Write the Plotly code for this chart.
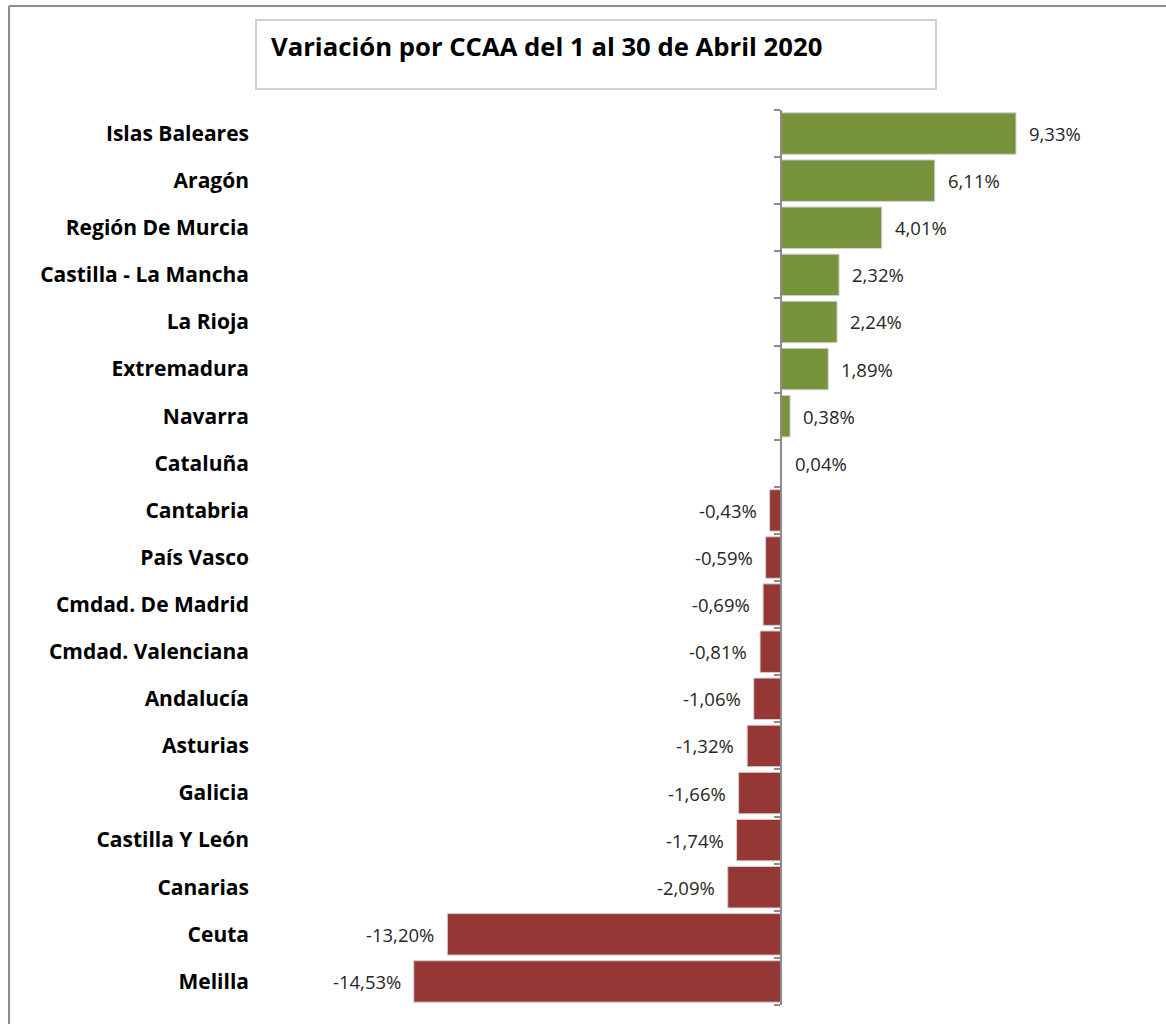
import plotly.graph_objects as go

categories = ["Islas Baleares", "Aragón", "Región De Murcia", "Castilla - La Mancha",
              "La Rioja", "Extremadura", "Navarra", "Cataluña", "Cantabria", "País Vasco",
              "Cmdad. De Madrid", "Cmdad. Valenciana", "Andalucía", "Asturias", "Galicia",
              "Castilla Y León", "Canarias", "Ceuta", "Melilla"]
values = [9.33, 6.11, 4.01, 2.32, 2.24, 1.89, 0.38, 0.04, -0.43, -0.59, -0.69, -0.81,
          -1.06, -1.32, -1.66, -1.74, -2.09, -13.20, -14.53]
title_text = "Variación por CCAA del 1 al 30 de Abril 2020"

GREEN = "#77933C"
RED = "#953735"
FONT = "Open Sans"

W, H = 1166, 1024
L, R, T, B = 256, 1160, 110, 1005
ZERO_PX = 780.5
PX_PER_UNIT = 25.24
xrange = [(L - ZERO_PX) / PX_PER_UNIT, (R - ZERO_PX) / PX_PER_UNIT]


def px_x(px):
    return (px - L) / (R - L)


def px_y(py):
    return (B - py) / (B - T)


def fmt(v):
    return f"{v:.2f}".replace(".", ",") + "%"


colors = [GREEN if v >= 0 else RED for v in values]

fig = go.Figure()
fig.add_trace(go.Bar(
    x=values, y=categories, orientation="h",
    marker=dict(color=colors, line=dict(color="#d0d0d0", width=1)),
    width=0.88, showlegend=False, hoverinfo="skip",
))
fig.add_trace(go.Scatter(x=[], y=[], xaxis="x", yaxis="y2", showlegend=False))

annotations = []
for c, v in zip(categories, values):
    annotations.append(dict(
        x=v, y=c, xref="x", yref="y", text=fmt(v), showarrow=False,
        xanchor="left" if v >= 0 else "right", yanchor="middle",
        xshift=11 if v >= 0 else -11,
        font=dict(family=FONT, size=18.5, color="#262626"),
    ))

annotations.append(dict(
    x=px_x(269), y=px_y(47), xref="paper", yref="paper", text="<b>" + title_text + "</b>",
    showarrow=False, xanchor="left", yanchor="middle",
    font=dict(family=FONT, size=25.7, color="#000000"),
))

n = len(categories)
shapes = [
    # title box
    dict(type="rect", xref="paper", yref="paper",
         x0=px_x(256), x1=px_x(936), y0=px_y(89), y1=px_y(20),
         line=dict(color="#d0d0d0", width=2), fillcolor="rgba(0,0,0,0)"),
    # outer chart border
    dict(type="line", xref="paper", yref="paper",
         x0=px_x(9), x1=px_x(9), y0=px_y(6), y1=px_y(1030),
         line=dict(color="#8c8c8c", width=2)),
    dict(type="line", xref="paper", yref="paper",
         x0=px_x(9), x1=px_x(1170), y0=px_y(6), y1=px_y(6),
         line=dict(color="#8c8c8c", width=2)),
]

fig.update_layout(
    width=W, height=H,
    margin=dict(l=L, r=W - R, t=T, b=H - B, pad=0),
    paper_bgcolor="white", plot_bgcolor="white",
    bargap=0.12,
    xaxis=dict(range=xrange, showgrid=False, zeroline=False, showline=False,
               showticklabels=False, ticks="", fixedrange=True),
    yaxis=dict(type="category", categoryorder="array", categoryarray=categories,
               range=[n - 0.5, -0.5], showgrid=False, zeroline=False, showline=False,
               ticks="", tickfont=dict(family=FONT, size=21, color="#000000", weight="bold"),
               ticklabelstandoff=6),
    yaxis2=dict(overlaying="y", anchor="free", position=px_x(ZERO_PX), side="left",
                range=[n - 0.5, -0.5], showgrid=False, zeroline=False,
                showline=True, linecolor="#8c8c8c", linewidth=1.5,
                ticks="outside", ticklen=6, tickcolor="#8c8c8c", tickwidth=1.5,
                tickvals=[i - 0.5 for i in range(n + 1)], showticklabels=False),
    annotations=annotations,
    shapes=shapes,
)

fig.write_html("out.html")
